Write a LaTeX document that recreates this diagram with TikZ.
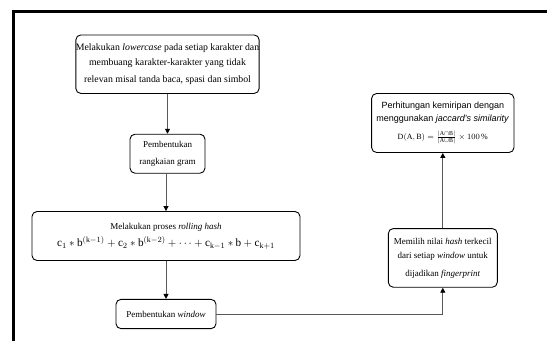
\documentclass[tikz,border=0pt]{standalone}
\usepackage{fontspec}
\setmainfont{Liberation Serif}
\newfontfamily\sansf{Liberation Sans}
\usetikzlibrary{arrows.meta}
\begin{document}
\begin{tikzpicture}[x=1pt,y=-1pt,
  box/.style={draw=black, line width=0.9pt, rounded corners=5pt, align=center, inner sep=0pt, font=\fontsize{9}{15}\selectfont},
  conn/.style={draw=black!65, line width=0.9pt, -{Triangle[length=5pt,width=5pt,color=black]}}]
\useasboundingbox (0,0) rectangle (547,341);
\fill[white] (0,0) rectangle (547,341);
\draw[line width=3.5pt] (13.4,341) -- (13.4,11.3) -- (548,11.3);

\node[box, minimum width=176pt, minimum height=58.5pt, font=\fontsize{9.8}{15}\selectfont] (b1) at (167.5,64.2)
  {Melakukan \textit{lowercase} pada setiap karakter dan\\ membuang karakter-karakter yang tidak\\[2pt] relevan misal tanda baca, spasi dan simbol};
\node[box, minimum width=75pt, minimum height=39pt, font=\fontsize{9}{17.4}\selectfont] (b2) at (167.5,153.7)
  {Pembentukan\\ rangkaian gram};
\node[box, minimum width=268pt, minimum height=49pt, font=\fontsize{9}{17.4}\selectfont] (b3) at (166,236)
  {Melakukan proses \textit{rolling hash}\\ {\fontsize{11.2}{14}\selectfont$\mathrm{c}_1 \ast \mathrm{b}^{(\mathrm{k}-1)} + \mathrm{c}_2 \ast \mathrm{b}^{(\mathrm{k}-2)} + \cdots + \mathrm{c}_{\mathrm{k}-1} \ast \mathrm{b} + \mathrm{c}_{\mathrm{k}+1}$}};
\node[box, minimum width=100pt, minimum height=29.3pt] (b4) at (166,314)
  {Pembentukan \textit{window}};
\node[box, minimum width=109pt, minimum height=58.7pt, font=\fontsize{9}{14}\selectfont] (b5) at (442.8,257.9)
  {Memilih nilai \textit{hash} terkecil\\ dari setiap \textit{window} untuk\\[4pt] dijadikan \textit{fingerprint}};
\node[box, minimum width=142.4pt, minimum height=59pt, font=\sansf\fontsize{9}{13}\selectfont] (b6) at (442.8,123)
  {Perhitungan kemiripan dengan\\ menggunakan \textit{jaccard's similarity}\\[5pt] {\rmfamily\fontsize{8}{10}\selectfont$\mathrm{D(A, B)} = \frac{|\mathrm{A}\cap\mathrm{B}|}{|\mathrm{A}\cup\mathrm{B}|} \times 100\,\%$}};

\draw[conn] (b1.south) -- (b2.north);
\draw[conn] (b3.north |- b2.south) -- (b3.north);
\draw[conn] (b3.south) -- (b4.north);
\draw[conn] (b4.east) -| (b5.south);
\draw[conn] (b5.north) -- (b6.south);
\end{tikzpicture}
\end{document}
